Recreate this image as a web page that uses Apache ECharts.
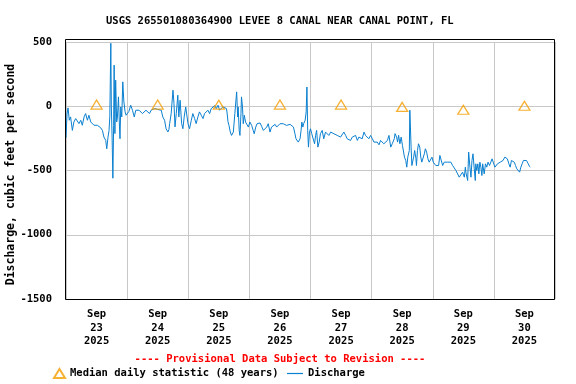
<!DOCTYPE html>
<html><head><meta charset="utf-8">
<script src="https://cdn.jsdelivr.net/npm/echarts@6/dist/echarts.min.js"></script>
<style>html,body{margin:0;padding:0;background:#fff}#c{width:576px;height:384px}</style>
</head><body><div id="c"></div>
<script>
// Hours after 2025-09-23 00:00
const hours = [0.0,0.4,0.8,1.3,1.8,2.5,3.1,3.8,4.5,5.1,5.8,6.4,7.1,7.7,8.4,9.0,9.7,10.4,11.0,11.7,12.3,13.0,13.6,14.3,14.9,15.6,16.0,16.5,16.9,17.2,17.6,17.8,18.1,18.4,18.7,18.9,19.2,19.5,19.9,20.2,20.6,21.0,21.2,21.5,21.9,22.3,22.7,23.2,23.6,
24.1,24.7,25.4,26.1,26.8,27.4,28.1,28.7,29.4,30.0,30.7,31.4,32.0,32.8,33.4,34.1,34.8,35.4,36.0,36.7,37.4,38.0,38.7,39.3,40.0,40.4,40.7,41.3,42.0,42.4,42.8,43.3,43.9,44.3,44.8,45.4,45.9,46.4,47.0,47.5,47.9,
48.5,49.2,49.8,50.5,51.1,51.8,52.4,53.1,53.8,54.4,55.1,55.7,56.4,57.0,57.7,58.4,59.0,59.7,60.3,61.0,61.6,62.3,63.0,63.3,63.6,64.0,64.5,65.0,65.7,66.3,67.0,67.4,67.6,68.0,68.3,68.7,68.9,69.3,69.6,70.0,70.5,70.9,71.6,
72.2,72.9,73.5,73.9,74.5,75.0,75.5,76.2,76.8,77.5,78.1,78.8,79.4,80.1,80.7,81.4,82.1,82.7,83.4,84.0,84.7,85.3,86.0,86.6,87.3,88.0,88.6,89.3,89.9,90.3,90.7,91.2,91.9,92.3,92.6,93.0,93.3,93.9,94.3,94.6,94.9,95.2,95.6,
96.0,96.5,97.0,97.6,98.0,98.4,98.9,99.4,99.9,100.6,101.2,101.9,102.6,103.2,103.9,104.5,105.2,105.8,106.5,107.1,107.8,108.5,109.1,109.8,110.4,111.1,111.7,112.4,113.0,113.7,114.4,115.0,115.7,116.3,117.0,117.6,118.3,118.9,119.6,
120.3,120.9,121.6,122.2,122.9,123.5,124.2,124.8,125.5,126.2,126.8,127.5,128.1,128.9,129.2,129.8,130.2,130.6,131.1,131.6,132.1,132.5,132.9,133.4,133.8,134.2,134.8,135.0,135.3,135.5,135.8,136.1,136.5,136.9,137.4,137.6,138.0,138.4,138.9,139.3,139.7,140.3,140.7,141.1,141.6,142.1,142.6,143.1,143.7,
144.2,144.7,145.2,145.8,146.3,146.8,147.3,147.9,148.5,149.2,149.8,150.5,151.1,151.8,152.5,153.1,153.8,154.4,155.1,155.7,156.4,156.8,157.0,157.7,158.1,158.6,159.0,159.4,159.8,160.3,160.7,160.9,161.3,161.7,162.1,162.5,162.9,163.3,163.6,164.2,164.7,165.2,165.7,166.3,166.8,167.3,167.8,
168.4,168.9,169.4,169.9,170.5,171.0,171.6,172.3,172.8,173.3,173.9,174.4,174.9,175.4,176.0,176.5,177.0,177.5,178.1,178.6,179.1,179.6,180.2,180.8,181.5,182.0,182.3];
// Discharge, cubic feet per second
const flow = [-245,-60,-13,-109,-83,-188,-122,-96,-83,-135,-109,-148,-83,-57,-109,-70,-122,-109,-148,-135,-148,-161,-167,-188,-240,-266,-331,-240,-188,-83,490,-5,-240,-560,-150,320,-213,203,-122,-83,73,-161,-253,-5,-83,190,40,-44,-70,
-83,-40,8,-31,-83,-31,-44,-31,-31,-57,-44,-31,-31,-57,-31,-31,-18,-5,-25,-10,-31,-83,-109,-175,-200,-182,-135,-57,125,21,-161,-57,86,-83,47,-135,-175,-83,-5,10,-135,
-175,-109,-57,-96,-135,-83,-44,-70,-96,-57,-44,-31,-57,-18,-31,5,-18,8,-31,-44,-5,10,-18,-60,-120,-150,-200,-227,-201,-57,112,-83,-5,-188,-227,-57,73,-5,-136,-70,-123,-136,-162,
-123,-149,-188,-214,-162,-136,-136,-130,-156,-188,-201,-162,-136,-201,-162,-149,-141,-162,-149,-136,-149,-136,-130,-149,-136,-141,-136,-162,-214,-253,-266,-279,-253,-188,-123,-162,-136,-109,-44,150,-188,-318,-201,
-175,-214,-201,-292,-227,-188,-318,-279,-214,-188,-253,-201,-195,-227,-201,-188,-214,-201,-227,-214,-240,-227,-201,-227,-253,-240,-266,-240,-253,-227,-266,-240,-227,-253,-201,-227,-214,-253,-227,
-253,-279,-292,-279,-300,-266,-253,-292,-305,-266,-227,-318,-292,-253,-213,-240,-279,-226,-292,-240,-305,-318,-396,-422,-474,-396,-344,-31,-44,-318,-461,-474,-396,-344,-409,-461,-344,-292,-318,-396,-435,-448,-370,-331,-357,-409,-435,-422,-396,
-435,-448,-461,-474,-461,-383,-396,-461,-435,-448,-435,-448,-435,-461,-474,-500,-513,-552,-565,-513,-552,-474,-513,-578,-357,-474,-552,-422,-370,-487,-578,-448,-500,-448,-526,-435,-474,-539,-448,-526,-448,-474,-435,-461,-448,-409,-396,
-474,-487,-448,-461,-435,-448,-422,-396,-383,-409,-448,-474,-422,-409,-435,-461,-487,-500,-513,-474,-448,-422,-409,-422,-448,-469,-474];
// Median daily statistic, at noon of each day
const medianHours = [12,36,60,84,108,132,156,180];
const medianValues = [13,13,12,13,13,-5,-27,4];
const dayLabels = ['Sep\n23\n2025','Sep\n24\n2025','Sep\n25\n2025','Sep\n26\n2025','Sep\n27\n2025','Sep\n28\n2025','Sep\n29\n2025','Sep\n30\n2025'];

const FONT = 'DejaVu Sans Mono';
const chart = echarts.init(document.getElementById('c'), null, {renderer:'canvas'});
const lineData = hours.map((h,i)=>[h, flow[i]]);
const medData = medianHours.map((h,i)=>[h, medianValues[i]]);
const txt = {fontFamily:FONT, fontWeight:'bold', fontSize:10.5, color:'#000'};
chart.setOption({
  animation:false,
  backgroundColor:'#fff',
  title:{text:'USGS 265501080364900 LEVEE 8 CANAL NEAR CANAL POINT, FL', left:106, top:15, padding:0,
    textStyle:Object.assign({}, txt, {fontSize:10.5, lineHeight:12})},
  grid:{left:66, right:21, top:42, bottom:85, containLabel:false, outerBoundsMode:'none'},
  xAxis:[
    {type:'value', min:0, max:192, interval:24, axisLine:{show:false}, axisTick:{show:false}, axisLabel:{show:false},
     splitLine:{show:true, lineStyle:{color:'#c8c8c8', width:1}}},
    {type:'value', min:0, max:192, interval:12, position:'bottom', axisLine:{show:false}, axisTick:{show:false},
     splitLine:{show:false},
     axisLabel:Object.assign({}, txt, {margin:9, lineHeight:13.3, align:'center',
       formatter:function(v){ if (v%24===12){ return dayLabels[(v-12)/24] || ''; } return ''; }})}
  ],
  yAxis:{type:'value', min:-1500, max:500, interval:500,
    axisLine:{show:false}, axisTick:{show:false},
    splitLine:{show:true, lineStyle:{color:'#c8c8c8', width:1}},
    axisLabel:Object.assign({}, txt, {margin:14, formatter:function(v){return String(v);}})},
  legend:[
    {data:['Median daily statistic (48 years)'], left:53, top:368, padding:0, itemWidth:11, itemHeight:9, itemGap:0,
     textStyle:Object.assign({}, txt)},
    {data:['Discharge'], left:287, top:368, padding:0, icon:'rect', itemWidth:16, itemHeight:1.2, itemGap:0,
     itemStyle:{color:'#0a80d0'}, textStyle:Object.assign({}, txt)}
  ],
  graphic:[
    {type:'rect', shape:{x:65.5, y:39.5, width:489, height:260}, style:{fill:null, stroke:'#000', lineWidth:1}, z:100, silent:true},
    {type:'text', x:11, y:174.5, rotation:Math.PI/2,
      style:{text:'Discharge, cubic feet per second', fill:'#000', font:'bold 11.5px "DejaVu Sans Mono"',
      textAlign:'center', textVerticalAlign:'middle'}, z:100},
    {type:'text', x:280, y:359, style:{text:'---- Provisional Data Subject to Revision ----', fill:'#ff0000',
      font:'bold 10.5px "DejaVu Sans Mono"', textAlign:'center', textVerticalAlign:'middle'}, z:100}
  ],
  series:[
    {name:'Discharge', type:'line', xAxisIndex:0, data:lineData, showSymbol:false, symbol:'none',
     lineStyle:{color:'#0a80d0', width:1}, itemStyle:{color:'#0a80d0'}, z:2},
    {name:'Median daily statistic (48 years)', type:'scatter', xAxisIndex:0, data:medData,
     symbol:'triangle', symbolSize:[11,9],
     itemStyle:{color:'rgba(255,255,255,0)', borderColor:'#f59d00', borderWidth:1.3}, z:3}
  ]
});
</script></body></html>
